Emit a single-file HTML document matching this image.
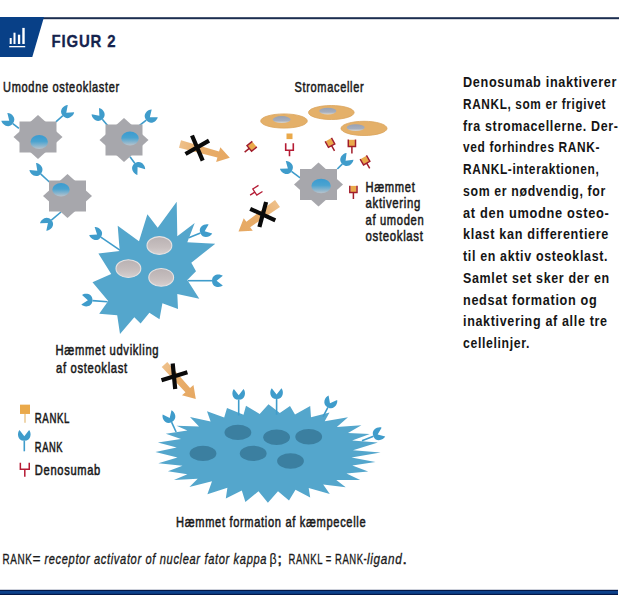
<!DOCTYPE html>
<html><head><meta charset="utf-8"><style>
html,body{margin:0;padding:0;background:#fff;width:620px;height:600px;overflow:hidden}
svg{display:block;font-family:"Liberation Sans",sans-serif}
</style></head><body>
<svg width="620" height="600" viewBox="0 0 620 600">
<defs><linearGradient id="ng" x1="0" y1="0" x2="0" y2="1"><stop offset="0" stop-color="#3a9bd0"/><stop offset="0.45" stop-color="#4aa3d0"/><stop offset="1" stop-color="#b9c3cc"/></linearGradient><linearGradient id="sg" x1="0" y1="0" x2="0" y2="1"><stop offset="0" stop-color="#98a1b3"/><stop offset="0.65" stop-color="#a6aebd"/><stop offset="1" stop-color="#dcd8d0"/></linearGradient><linearGradient id="bg" x1="0" y1="0" x2="0" y2="1"><stop offset="0" stop-color="#b9b1b2"/><stop offset="0.6" stop-color="#c7bfbf"/><stop offset="1" stop-color="#d6d0d0"/></linearGradient><linearGradient id="ag" x1="0" y1="0" x2="1" y2="0"><stop offset="0" stop-color="#eec08a"/><stop offset="0.45" stop-color="#e8ad6a"/><stop offset="1" stop-color="#e6a862"/></linearGradient></defs>
<rect x="0" y="17.2" width="619" height="2" fill="#1c2e50"/>
<path d="M0,17 H44 L32.3,57 H0 Z" fill="#084087"/>
<g fill="#fff"><rect x="9.7" y="38" width="2" height="6"/><rect x="13.5" y="32.7" width="2" height="11.3"/><rect x="17.9" y="34.7" width="2.3" height="9.3"/><rect x="22.3" y="27.9" width="2.4" height="16.1"/><rect x="9.2" y="46" width="16" height="1.3"/></g>
<text x="51.6" y="46.6" font-size="16.3" font-weight="bold" font-style="normal" fill="#15234d" textLength="64.7" lengthAdjust="spacingAndGlyphs" stroke="#15234d" stroke-width="0.3" letter-spacing="0.9">FIGUR 2</text>
<rect x="0" y="589.8" width="618" height="5.2" fill="#041848"/><rect x="0" y="591" width="618" height="2.8" fill="#0d418b"/>
<text x="3.1" y="91.8" font-size="15" font-weight="normal" font-style="normal" fill="#1a1a1a" textLength="116.7" lengthAdjust="spacingAndGlyphs" stroke="#1a1a1a" stroke-width="0.55" letter-spacing="0.9">Umodne osteoklaster</text>
<text x="294.5" y="91.9" font-size="15" font-weight="normal" font-style="normal" fill="#1a1a1a" textLength="69.8" lengthAdjust="spacingAndGlyphs" stroke="#1a1a1a" stroke-width="0.55" letter-spacing="0.9">Stromaceller</text>
<text x="365.5" y="191.8" font-size="15" font-weight="normal" font-style="normal" fill="#1a1a1a" textLength="50.0" lengthAdjust="spacingAndGlyphs" stroke="#1a1a1a" stroke-width="0.55" letter-spacing="0.9">Hæmmet</text>
<text x="365.5" y="208.3" font-size="15" font-weight="normal" font-style="normal" fill="#1a1a1a" textLength="55.5" lengthAdjust="spacingAndGlyphs" stroke="#1a1a1a" stroke-width="0.55" letter-spacing="0.9">aktivering</text>
<text x="365.5" y="224.8" font-size="15" font-weight="normal" font-style="normal" fill="#1a1a1a" textLength="58.8" lengthAdjust="spacingAndGlyphs" stroke="#1a1a1a" stroke-width="0.55" letter-spacing="0.9">af umoden</text>
<text x="365.5" y="241.3" font-size="15" font-weight="normal" font-style="normal" fill="#1a1a1a" textLength="58.1" lengthAdjust="spacingAndGlyphs" stroke="#1a1a1a" stroke-width="0.55" letter-spacing="0.9">osteoklast</text>
<text x="55.5" y="354.5" font-size="15" font-weight="normal" font-style="normal" fill="#1a1a1a" textLength="103.8" lengthAdjust="spacingAndGlyphs" stroke="#1a1a1a" stroke-width="0.55" letter-spacing="0.9">Hæmmet udvikling</text>
<text x="56" y="372.6" font-size="15" font-weight="normal" font-style="normal" fill="#1a1a1a" textLength="71.8" lengthAdjust="spacingAndGlyphs" stroke="#1a1a1a" stroke-width="0.55" letter-spacing="0.9">af osteoklast</text>
<text x="176" y="527" font-size="15" font-weight="normal" font-style="normal" fill="#1a1a1a" textLength="190.3" lengthAdjust="spacingAndGlyphs" stroke="#1a1a1a" stroke-width="0.55" letter-spacing="0.9">Hæmmet formation af kæmpecelle</text>
<text x="34.8" y="422.5" font-size="14.2" font-weight="normal" font-style="normal" fill="#1a1a1a" textLength="35.2" lengthAdjust="spacingAndGlyphs" stroke="#1a1a1a" stroke-width="0.55" letter-spacing="0.9">RANKL</text>
<text x="34.8" y="452" font-size="14.2" font-weight="normal" font-style="normal" fill="#1a1a1a" textLength="28.3" lengthAdjust="spacingAndGlyphs" stroke="#1a1a1a" stroke-width="0.55" letter-spacing="0.9">RANK</text>
<text x="34.8" y="474.6" font-size="14.2" font-weight="normal" font-style="normal" fill="#1a1a1a" textLength="66.2" lengthAdjust="spacingAndGlyphs" stroke="#1a1a1a" stroke-width="0.55" letter-spacing="0.9">Denosumab</text>
<text x="2.6" y="564.2" font-size="15.5" font-weight="normal" font-style="normal" fill="#1a1a1a" textLength="29.7" lengthAdjust="spacingAndGlyphs" stroke="#1a1a1a" stroke-width="0.35" letter-spacing="0.9">RANK</text>
<text x="32.4" y="564.2" font-size="15.5" font-weight="normal" font-style="normal" fill="#1a1a1a" textLength="8.9" lengthAdjust="spacingAndGlyphs" stroke="#1a1a1a" stroke-width="0.2" letter-spacing="0.9">=</text>
<text x="44.4" y="564.2" font-size="15.5" font-weight="normal" font-style="italic" fill="#1a1a1a" textLength="222.7" lengthAdjust="spacingAndGlyphs" stroke="#1a1a1a" stroke-width="0.35" letter-spacing="0.9">receptor activator of nuclear fator kappa</text>
<text x="269.5" y="564.2" font-size="14" font-weight="normal" font-style="normal" fill="#1a1a1a" textLength="7.9" lengthAdjust="spacingAndGlyphs" stroke="#1a1a1a" stroke-width="0.2" letter-spacing="0.9">β</text>
<text x="277.6" y="564.2" font-size="15.5" font-weight="normal" font-style="normal" fill="#1a1a1a" stroke="#1a1a1a" stroke-width="0.55" letter-spacing="0.9">;</text>
<text x="288.6" y="564.2" font-size="15.5" font-weight="normal" font-style="normal" fill="#1a1a1a" textLength="78.7" lengthAdjust="spacingAndGlyphs" stroke="#1a1a1a" stroke-width="0.35" letter-spacing="0.9">RANKL = RANK-</text>
<text x="367" y="564.2" font-size="15.5" font-weight="normal" font-style="italic" fill="#1a1a1a" textLength="35.5" lengthAdjust="spacingAndGlyphs" stroke="#1a1a1a" stroke-width="0.35" letter-spacing="0.9">ligand</text>
<text x="402.5" y="564.2" font-size="15.5" font-weight="normal" font-style="normal" fill="#1a1a1a" stroke="#1a1a1a" stroke-width="0.55" letter-spacing="0.9">.</text>
<text x="463" y="87.0" font-size="15.2" font-weight="bold" font-style="normal" fill="#151515" textLength="154.16" lengthAdjust="spacingAndGlyphs" letter-spacing="0.8">Denosumab inaktiverer</text>
<text x="463" y="108.75" font-size="15.2" font-weight="bold" font-style="normal" fill="#151515" textLength="143.16" lengthAdjust="spacingAndGlyphs" letter-spacing="0.8">RANKL, som er frigivet</text>
<text x="463" y="130.5" font-size="15.2" font-weight="bold" font-style="normal" fill="#151515" textLength="155.66" lengthAdjust="spacingAndGlyphs" letter-spacing="0.8">fra stromacellerne. Der-</text>
<text x="463" y="152.25" font-size="15.2" font-weight="bold" font-style="normal" fill="#151515" textLength="137.16" lengthAdjust="spacingAndGlyphs" letter-spacing="0.8">ved forhindres RANK-</text>
<text x="463" y="174.0" font-size="15.2" font-weight="bold" font-style="normal" fill="#151515" textLength="136.36" lengthAdjust="spacingAndGlyphs" letter-spacing="0.8">RANKL-interaktionen,</text>
<text x="463" y="195.75" font-size="15.2" font-weight="bold" font-style="normal" fill="#151515" textLength="142.96" lengthAdjust="spacingAndGlyphs" letter-spacing="0.8">som er nødvendig, for</text>
<text x="463" y="217.5" font-size="15.2" font-weight="bold" font-style="normal" fill="#151515" textLength="146.36" lengthAdjust="spacingAndGlyphs" letter-spacing="0.8">at den umodne osteo-</text>
<text x="463" y="239.25" font-size="15.2" font-weight="bold" font-style="normal" fill="#151515" textLength="146.06" lengthAdjust="spacingAndGlyphs" letter-spacing="0.8">klast kan differentiere</text>
<text x="463" y="261.0" font-size="15.2" font-weight="bold" font-style="normal" fill="#151515" textLength="145.16" lengthAdjust="spacingAndGlyphs" letter-spacing="0.8">til en aktiv osteoklast.</text>
<text x="463" y="282.75" font-size="15.2" font-weight="bold" font-style="normal" fill="#151515" textLength="146.86" lengthAdjust="spacingAndGlyphs" letter-spacing="0.8">Samlet set sker der en</text>
<text x="463" y="304.5" font-size="15.2" font-weight="bold" font-style="normal" fill="#151515" textLength="134.36" lengthAdjust="spacingAndGlyphs" letter-spacing="0.8">nedsat formation og</text>
<text x="463" y="326.25" font-size="15.2" font-weight="bold" font-style="normal" fill="#151515" textLength="144.66" lengthAdjust="spacingAndGlyphs" letter-spacing="0.8">inaktivering af alle tre</text>
<text x="463" y="348.0" font-size="15.2" font-weight="bold" font-style="normal" fill="#151515" textLength="66.96" lengthAdjust="spacingAndGlyphs" letter-spacing="0.8">cellelinjer.</text>
<line x1="25" y1="413.95" x2="25" y2="422.65" stroke="#e9c58a" stroke-width="1.4"/><rect x="20.0" y="404.65000000000003" width="10" height="9.3" fill="#eaa94a"/>
<g transform="translate(24.3,435.5) rotate(0.0)"><path d="M0.00,0.69 L-4.83,-5.52 C-7.24,-2.99 -7.36,5.29 0.00,5.29 C7.36,5.29 7.24,-2.99 4.83,-5.52 Z" fill="#3f9ccb"/><line x1="0" y1="5.2" x2="0" y2="15.8" stroke="#3f9ccb" stroke-width="1.6"/></g>
<g transform="translate(24.8,469.3) rotate(0.0)"><path d="M-4.45,-6.6 V0 H4.45 V-6.6 M0,0 V7.4" fill="none" stroke="#b51b34" stroke-width="1.5"/></g>
<g transform="translate(8.7,120.3) rotate(-51.9)"><path d="M0.00,0.69 L-4.83,-5.52 C-7.24,-2.99 -7.36,5.29 0.00,5.29 C7.36,5.29 7.24,-2.99 4.83,-5.52 Z" fill="#3f9ccb"/><line x1="0" y1="5.2" x2="0" y2="13.0" stroke="#3f9ccb" stroke-width="1.6"/></g>
<g transform="translate(66.8,112.3) rotate(48.9)"><path d="M0.00,0.69 L-4.83,-5.52 C-7.24,-2.99 -7.36,5.29 0.00,5.29 C7.36,5.29 7.24,-2.99 4.83,-5.52 Z" fill="#3f9ccb"/><line x1="0" y1="5.2" x2="0" y2="14.5" stroke="#3f9ccb" stroke-width="1.6"/></g>
<rect x="19.5" y="121.5" width="37" height="31" fill="#a7a7ac"/><path d="M38,115.0 L62.5,137 L38,159.0 L13.5,137 Z" fill="#a7a7ac"/><ellipse cx="39.2" cy="142" rx="8.7" ry="7" fill="url(#ng)"/>
<g transform="translate(98.9,115.3) rotate(-40.5)"><path d="M0.00,0.69 L-4.83,-5.52 C-7.24,-2.99 -7.36,5.29 0.00,5.29 C7.36,5.29 7.24,-2.99 4.83,-5.52 Z" fill="#3f9ccb"/><line x1="0" y1="5.2" x2="0" y2="13.4" stroke="#3f9ccb" stroke-width="1.6"/></g>
<g transform="translate(150.4,116.8) rotate(51.4)"><path d="M0.00,0.69 L-4.83,-5.52 C-7.24,-2.99 -7.36,5.29 0.00,5.29 C7.36,5.29 7.24,-2.99 4.83,-5.52 Z" fill="#3f9ccb"/><line x1="0" y1="5.2" x2="0" y2="13.9" stroke="#3f9ccb" stroke-width="1.6"/></g>
<g transform="translate(138.0,167.6) rotate(-216.3)"><path d="M0.00,0.69 L-4.83,-5.52 C-7.24,-2.99 -7.36,5.29 0.00,5.29 C7.36,5.29 7.24,-2.99 4.83,-5.52 Z" fill="#3f9ccb"/><line x1="0" y1="5.2" x2="0" y2="13.5" stroke="#3f9ccb" stroke-width="1.6"/></g>
<rect x="105.5" y="124.5" width="37" height="31" fill="#a7a7ac"/><path d="M124,118.0 L148.5,140 L124,162.0 L99.5,140 Z" fill="#a7a7ac"/><ellipse cx="130" cy="138.5" rx="8.7" ry="7" fill="url(#ng)"/>
<g transform="translate(36.8,170.3) rotate(-47.1)"><path d="M0.00,0.69 L-4.83,-5.52 C-7.24,-2.99 -7.36,5.29 0.00,5.29 C7.36,5.29 7.24,-2.99 4.83,-5.52 Z" fill="#3f9ccb"/><line x1="0" y1="5.2" x2="0" y2="17.2" stroke="#3f9ccb" stroke-width="1.6"/></g>
<g transform="translate(47.4,223.5) rotate(-130.2)"><path d="M0.00,0.69 L-4.83,-5.52 C-7.24,-2.99 -7.36,5.29 0.00,5.29 C7.36,5.29 7.24,-2.99 4.83,-5.52 Z" fill="#3f9ccb"/><line x1="0" y1="5.2" x2="0" y2="17.8" stroke="#3f9ccb" stroke-width="1.6"/></g>
<rect x="49.0" y="180.5" width="37" height="31" fill="#a7a7ac"/><path d="M67.5,174.0 L92.0,196 L67.5,218.0 L43.0,196 Z" fill="#a7a7ac"/><ellipse cx="61" cy="189.7" rx="8.7" ry="6.8" fill="url(#ng)"/>
<g transform="translate(287.3,168.2) rotate(-53.1)"><path d="M0.00,0.69 L-4.83,-5.52 C-7.24,-2.99 -7.36,5.29 0.00,5.29 C7.36,5.29 7.24,-2.99 4.83,-5.52 Z" fill="#3f9ccb"/><line x1="0" y1="5.2" x2="0" y2="16.1" stroke="#3f9ccb" stroke-width="1.6"/></g>
<g transform="translate(346.1,160.2) rotate(45.0)"><path d="M0.00,0.69 L-4.83,-5.52 C-7.24,-2.99 -7.36,5.29 0.00,5.29 C7.36,5.29 7.24,-2.99 4.83,-5.52 Z" fill="#3f9ccb"/><line x1="0" y1="5.2" x2="0" y2="12.4" stroke="#3f9ccb" stroke-width="1.6"/></g>
<rect x="300.0" y="169.0" width="37" height="31" fill="#a7a7ac"/><path d="M318.5,162.5 L343.0,184.5 L318.5,206.5 L294.0,184.5 Z" fill="#a7a7ac"/><ellipse cx="321.1" cy="186" rx="9.7" ry="7.3" fill="url(#ng)"/>
<ellipse cx="284" cy="121" rx="23.3" ry="7.1" fill="#e4b069" stroke="#dba35a" stroke-width="0.8"/>
<ellipse cx="281.7" cy="119.6" rx="9" ry="3.5" fill="url(#sg)"/>
<ellipse cx="331.3" cy="112.5" rx="22.8" ry="7.0" fill="#e4b069" stroke="#dba35a" stroke-width="0.8"/>
<ellipse cx="327.8" cy="111.1" rx="8.6" ry="3.4" fill="url(#sg)"/>
<ellipse cx="364" cy="128.4" rx="23" ry="7.1" fill="#e4b069" stroke="#dba35a" stroke-width="0.8"/>
<ellipse cx="355.7" cy="127.6" rx="9" ry="3.4" fill="url(#sg)"/>
<line x1="289.5" y1="139.10000000000002" x2="289.5" y2="139.10000000000002" stroke="#e9c58a" stroke-width="0"/><rect x="286.5" y="133.5" width="6" height="5.6" fill="#eaa94a"/>
<g transform="translate(289.5,150.3) rotate(0.0)"><path d="M-3.8,-7 V0 H3.8 V-7 M0,0 V6" fill="none" stroke="#b51b34" stroke-width="1.6"/></g>
<g transform="translate(351.9,146.4) rotate(0.0) scale(1.0)"><rect x="-3" y="-6.6" width="6" height="6.2" fill="#eaa94a"/><path d="M-3.6,-6.8 V0 H3.6 V-6.8 M0,0 V7" fill="none" stroke="#a11d2a" stroke-width="1.5"/></g>
<g transform="translate(331.6,145.6) rotate(-29.0) scale(1.0)"><rect x="-3" y="-6.6" width="6" height="6.2" fill="#eaa94a"/><path d="M-3.6,-6.8 V0 H3.6 V-6.8 M0,0 V6.0" fill="none" stroke="#a11d2a" stroke-width="1.5"/></g>
<g transform="translate(366.7,163.1) rotate(-30.0) scale(1.0)"><rect x="-3" y="-6.6" width="6" height="6.2" fill="#eaa94a"/><path d="M-3.6,-6.8 V0 H3.6 V-6.8 M0,0 V6.0" fill="none" stroke="#a11d2a" stroke-width="1.5"/></g>
<g transform="translate(249.3,148.4) rotate(51.0) scale(1.0)"><rect x="-3" y="-6.6" width="6" height="6.2" fill="#eaa94a"/><path d="M-3.6,-6.8 V0 H3.6 V-6.8 M0,0 V6.0" fill="none" stroke="#a11d2a" stroke-width="1.5"/></g>
<g transform="translate(353.4,192.5) rotate(0.0) scale(1.0)"><rect x="-3" y="-6.6" width="6" height="6.2" fill="#eaa94a"/><path d="M-3.6,-6.8 V0 H3.6 V-6.8 M0,0 V6.5" fill="none" stroke="#a11d2a" stroke-width="1.5"/></g>
<g transform="translate(254.8,192.1) rotate(57.0)"><path d="M-3.65,-6.8 V0 H3.65 V-6.8 M0,0 V5.6" fill="none" stroke="#b51b34" stroke-width="1.3"/></g>
<g transform="translate(180,144) rotate(15.5)"><path d="M0,-3.8 L39.67668720032275,-3.1 V-7.75 L51.67668720032275,0 L39.67668720032275,7.75 V3.1 L0,3.8 Z" fill="url(#ag)"/></g>
<path d="M192,135.5 L202.7,160.6 M185.5,154 L209,140.6" stroke="#0a0a0a" stroke-width="4.2" fill="none"/>
<g transform="translate(277.5,203.5) rotate(144.3)"><path d="M0,-4.25 L36.010415536631214,-3.25 V-7.75 L48.010415536631214,0 L36.010415536631214,7.75 V3.25 L0,4.25 Z" fill="url(#ag)"/></g>
<path d="M266.1,202 L259.4,227 M250.2,208.8 L275.3,220.3" stroke="#0a0a0a" stroke-width="4.2" fill="none"/>
<g transform="translate(164.5,364.5) rotate(47.8)"><path d="M0,-3.75 L34.58261478277063,-3.1 V-7.75 L46.58261478277063,0 L34.58261478277063,7.75 V3.1 L0,3.75 Z" fill="url(#ag)"/></g>
<path d="M172.7,363.5 L175.2,389 M161.5,380.3 L187.4,372.3" stroke="#0a0a0a" stroke-width="4.2" fill="none"/>
<g transform="translate(96.5,234.2) rotate(-55.9)"><path d="M0.00,0.69 L-4.83,-5.52 C-7.24,-2.99 -7.36,5.29 0.00,5.29 C7.36,5.29 7.24,-2.99 4.83,-5.52 Z" fill="#3f9ccb"/><line x1="0" y1="5.2" x2="0" y2="28.7" stroke="#3f9ccb" stroke-width="1.6"/></g>
<g transform="translate(205.3,231.0) rotate(68.0)"><path d="M0.00,0.69 L-4.83,-5.52 C-7.24,-2.99 -7.36,5.29 0.00,5.29 C7.36,5.29 7.24,-2.99 4.83,-5.52 Z" fill="#3f9ccb"/><line x1="0" y1="5.2" x2="0" y2="17.9" stroke="#3f9ccb" stroke-width="1.6"/></g>
<g transform="translate(217.3,280.7) rotate(90.0)"><path d="M0.00,0.69 L-4.83,-5.52 C-7.24,-2.99 -7.36,5.29 0.00,5.29 C7.36,5.29 7.24,-2.99 4.83,-5.52 Z" fill="#3f9ccb"/><line x1="0" y1="5.2" x2="0" y2="29.3" stroke="#3f9ccb" stroke-width="1.6"/></g>
<g transform="translate(87.2,300.2) rotate(-85.8)"><path d="M0.00,0.69 L-4.83,-5.52 C-7.24,-2.99 -7.36,5.29 0.00,5.29 C7.36,5.29 7.24,-2.99 4.83,-5.52 Z" fill="#3f9ccb"/><line x1="0" y1="5.2" x2="0" y2="20.4" stroke="#3f9ccb" stroke-width="1.6"/></g>
<path d="M98.4,253.5 L119.7,251 L117.7,225.8 L139,241.3 L147.4,214.2 L157.7,227.7 L176.7,201.7 L177.3,236.3 L194.7,223 L187.3,242.3 L215.3,243.7 L191.3,262.7 L196,271.3 L187.3,280 L199.3,298.7 L177.3,294 L178,309 L162.4,303.2 L159.5,319.2 L149.4,312.7 L140.6,323.5 L134.3,317.3 L120,334 L117.2,315.2 L99.2,313.7 L108.2,301 L92.5,282.2 L111.2,274 Z" fill="#54a6cc"/>
<ellipse cx="159.4" cy="245.5" rx="12.4" ry="8.9" fill="url(#bg)" stroke="#e6e2e2" stroke-width="1.1"/>
<ellipse cx="128.4" cy="268.6" rx="12.4" ry="8.9" fill="url(#bg)" stroke="#e6e2e2" stroke-width="1.1"/>
<ellipse cx="161.2" cy="277.4" rx="12.4" ry="8.9" fill="url(#bg)" stroke="#e6e2e2" stroke-width="1.1"/>
<path d="M155.4,452.1 L176.7,447.5 L157.9,442.5 L181.0,439.0 L165.8,433.8 L187.4,430.5 L176.5,425.7 L199.0,426.5 L190.0,416.9 L210.6,421.5 L207.0,411.3 L224.2,417.6 L227.0,408.0 L243.5,414.7 L246.0,405.8 L259.7,413.9 L268.5,404.2 L279.8,413.0 L290.0,406.0 L295.0,414.5 L310.2,406.0 L311.0,417.3 L329.5,412.4 L324.7,421.3 L348.0,417.3 L336.8,426.9 L361.4,425.2 L348.0,432.9 L369.8,434.1 L352.1,440.6 L377.9,442.6 L353.0,450.3 L380.6,452.5 L351.5,457.6 L375.5,461.9 L352.3,465.6 L368.2,471.4 L346.5,473.5 L360.2,480.1 L336.3,480.1 L345.7,487.3 L323.2,484.4 L329.8,493.9 L308.7,488.0 L310.2,497.5 L295.5,489.8 L289.0,500.6 L278.0,491.2 L267.9,502.8 L258.5,491.2 L245.4,502.1 L241.8,490.5 L225.8,498.5 L227.4,487.7 L207.4,494.2 L212.0,481.3 L189.4,487.1 L197.7,478.7 L173.9,480.0 L187.4,474.2 L167.9,471.3 L182.5,465.8 L158.3,463.3 L177.5,457.5 Z" fill="#54a6cc"/>
<g transform="translate(169.4,417.4) rotate(-24.7)"><path d="M0.00,0.69 L-4.83,-5.52 C-7.24,-2.99 -7.36,5.29 0.00,5.29 C7.36,5.29 7.24,-2.99 4.83,-5.52 Z" fill="#3f9ccb"/><line x1="0" y1="5.2" x2="0" y2="16.1" stroke="#3f9ccb" stroke-width="1.6"/></g>
<g transform="translate(238.7,394.5) rotate(0.0)"><path d="M0.00,0.69 L-4.83,-5.52 C-7.24,-2.99 -7.36,5.29 0.00,5.29 C7.36,5.29 7.24,-2.99 4.83,-5.52 Z" fill="#3f9ccb"/><line x1="0" y1="5.2" x2="0" y2="21.0" stroke="#3f9ccb" stroke-width="1.6"/></g>
<g transform="translate(276.6,393.7) rotate(0.0)"><path d="M0.00,0.69 L-4.83,-5.52 C-7.24,-2.99 -7.36,5.29 0.00,5.29 C7.36,5.29 7.24,-2.99 4.83,-5.52 Z" fill="#3f9ccb"/><line x1="0" y1="5.2" x2="0" y2="21.0" stroke="#3f9ccb" stroke-width="1.6"/></g>
<g transform="translate(330.3,402.7) rotate(27.6)"><path d="M0.00,0.69 L-4.83,-5.52 C-7.24,-2.99 -7.36,5.29 0.00,5.29 C7.36,5.29 7.24,-2.99 4.83,-5.52 Z" fill="#3f9ccb"/><line x1="0" y1="5.2" x2="0" y2="15.6" stroke="#3f9ccb" stroke-width="1.6"/></g>
<g transform="translate(378.3,434.2) rotate(68.0)"><path d="M0.00,0.69 L-4.83,-5.52 C-7.24,-2.99 -7.36,5.29 0.00,5.29 C7.36,5.29 7.24,-2.99 4.83,-5.52 Z" fill="#3f9ccb"/><line x1="0" y1="5.2" x2="0" y2="17.6" stroke="#3f9ccb" stroke-width="1.6"/></g>
<ellipse cx="237.9" cy="432.4" rx="13.4" ry="7.7" fill="#3b7fa0"/>
<ellipse cx="276.6" cy="437.3" rx="13.4" ry="7.7" fill="#3b7fa0"/>
<ellipse cx="308.7" cy="436.8" rx="13.4" ry="7.7" fill="#3b7fa0"/>
<ellipse cx="203" cy="453.4" rx="13.4" ry="7.7" fill="#3b7fa0"/>
<ellipse cx="253.2" cy="453.4" rx="13.4" ry="7.7" fill="#3b7fa0"/>
<ellipse cx="290.5" cy="461" rx="13.4" ry="7.7" fill="#3b7fa0"/>
</svg></body></html>
